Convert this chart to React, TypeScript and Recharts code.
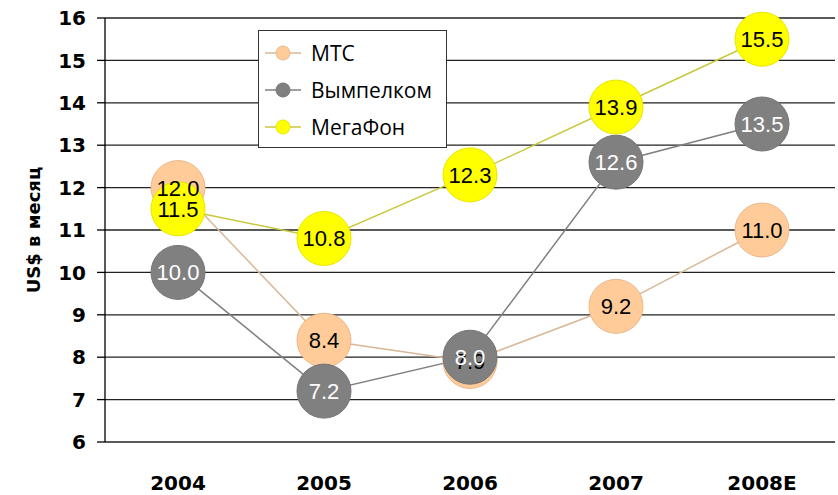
import { LineChart, Line, XAxis, YAxis, CartesianGrid, Legend, LabelList } from 'recharts'

const years = ['2004', '2005', '2006', '2007', '2008E']
const mts = [12.0, 8.4, 7.9, 9.2, 11.0]
const beeline = [10.0, 7.2, 8.0, 12.6, 13.5]
const megafon = [11.5, 10.8, 12.3, 13.9, 15.5]
const yTicks = [6, 7, 8, 9, 10, 11, 12, 13, 14, 15, 16]
const bandEdges = [0, 1, 2, 3, 4, 5]

const series = [
  { key: 'mts', name: 'МТС', fill: '#FFCC99', ring: '#E9B88C', line: '#D8B898', text: '#000000' },
  { key: 'beeline', name: 'Вымпелком', fill: '#808080', ring: '#767676', line: '#808080', text: '#FFFFFF' },
  { key: 'megafon', name: 'МегаФон', fill: '#FFFF00', ring: '#E6E600', line: '#C8C83C', text: '#000000' },
]

const data = years.map((year, i) => ({
  year,
  mts: mts[i],
  beeline: beeline[i],
  megafon: megafon[i],
}))

const axisFont = 'DejaVu Sans, sans-serif'
const valueFont = 'Liberation Sans, Arial, sans-serif'

function YearTick({ x, y, payload }: any) {
  return (
    <text x={x} y={y + 40} textAnchor="middle" fontFamily={axisFont} fontWeight="bold" fontSize={20} fill="#000">
      {payload.value}
    </text>
  )
}

// legend drawn in series order (recharts sorts its payload by name)
function LegendBox() {
  return (
    <div
      style={{
        border: '1px solid #333',
        background: '#fff',
        width: 187,
        padding: '3px 0 2px 0',
        fontFamily: 'Open Sans, sans-serif',
        fontSize: 21,
        color: '#000',
      }}
    >
      {series.map((s) => (
        <div key={s.key} style={{ display: 'flex', alignItems: 'center', height: 37 }}>
          <svg width={46} height={20} style={{ marginLeft: 6 }}>
            <line x1={0} y1={10} x2={36} y2={10} stroke={s.line} strokeWidth={1.5} />
            <circle cx={18} cy={10} r={7} fill={s.fill} stroke={s.ring} />
          </svg>
          <span style={{ lineHeight: '20px' }}>{s.name}</span>
        </div>
      ))}
    </div>
  )
}

function valueLabel(color: string) {
  return ({ x, y, value }: any) => (
    <text x={x} y={y} dy={8} textAnchor="middle" fontFamily={valueFont} fontSize={22} fill={color}>
      {Number(value).toFixed(1)}
    </text>
  )
}

export default function App() {
  return (
    <div style={{ position: 'absolute', left: 0, top: 0, background: '#fff' }}>
      <LineChart width={838} height={495} data={data} margin={{ top: 18, right: 3, left: 0, bottom: 0 }}>
        <CartesianGrid vertical={false} stroke="#222" strokeWidth={1.3} />
        <XAxis
          xAxisId="edges"
          type="number"
          domain={[0, 5]}
          ticks={bandEdges}
          height={0}
          axisLine={false}
          tickLine={{ stroke: '#000', strokeWidth: 1.3 }}
          tickSize={8}
          tick={() => <g />}
        />
        <XAxis
          dataKey="year"
          height={53}
          axisLine={false}
          tickLine={false}
          padding={{ left: 73, right: 73 }}
          tick={<YearTick />}
          interval={0}
        />
        <YAxis
          domain={[6, 16]}
          ticks={yTicks}
          width={105}
          axisLine={{ stroke: '#000', strokeWidth: 1.3 }}
          tickLine={{ stroke: '#000', strokeWidth: 1.3 }}
          tickSize={8}
          tickMargin={11}
          tick={{ fontFamily: axisFont, fontWeight: 'bold', fontSize: 20, fill: '#000' }}
          label={({ viewBox }: any) => (
            <text
              x={40}
              y={viewBox.y + viewBox.height / 2}
              transform={`rotate(-90, 40, ${viewBox.y + viewBox.height / 2})`}
              textAnchor="middle"
              fontFamily={axisFont}
              fontWeight="bold"
              fontSize={18}
              fill="#000"
            >
              US$ в месяц
            </text>
          )}
        />
        <Legend
          layout="vertical"
          align="center"
          verticalAlign="middle"
          content={<LegendBox />}
          wrapperStyle={{ left: 258, top: 30, width: 189 }}
        />
        {series.map((s) => (
          <Line
            key={s.key}
            dataKey={s.key}
            name={s.name}
            stroke={s.line}
            strokeWidth={1.5}
            dot={{ r: 27, fill: s.fill, stroke: s.ring, strokeWidth: 1, fillOpacity: 1 }}
            activeDot={false}
            isAnimationActive={false}
          />
        ))}
        {series.map((s) => (
          <Line
            key={`${s.key}-labels`}
            dataKey={s.key}
            stroke="none"
            dot={false}
            activeDot={false}
            legendType="none"
            isAnimationActive={false}
          >
            <LabelList dataKey={s.key} content={valueLabel(s.text)} />
          </Line>
        ))}
      </LineChart>
    </div>
  )
}
